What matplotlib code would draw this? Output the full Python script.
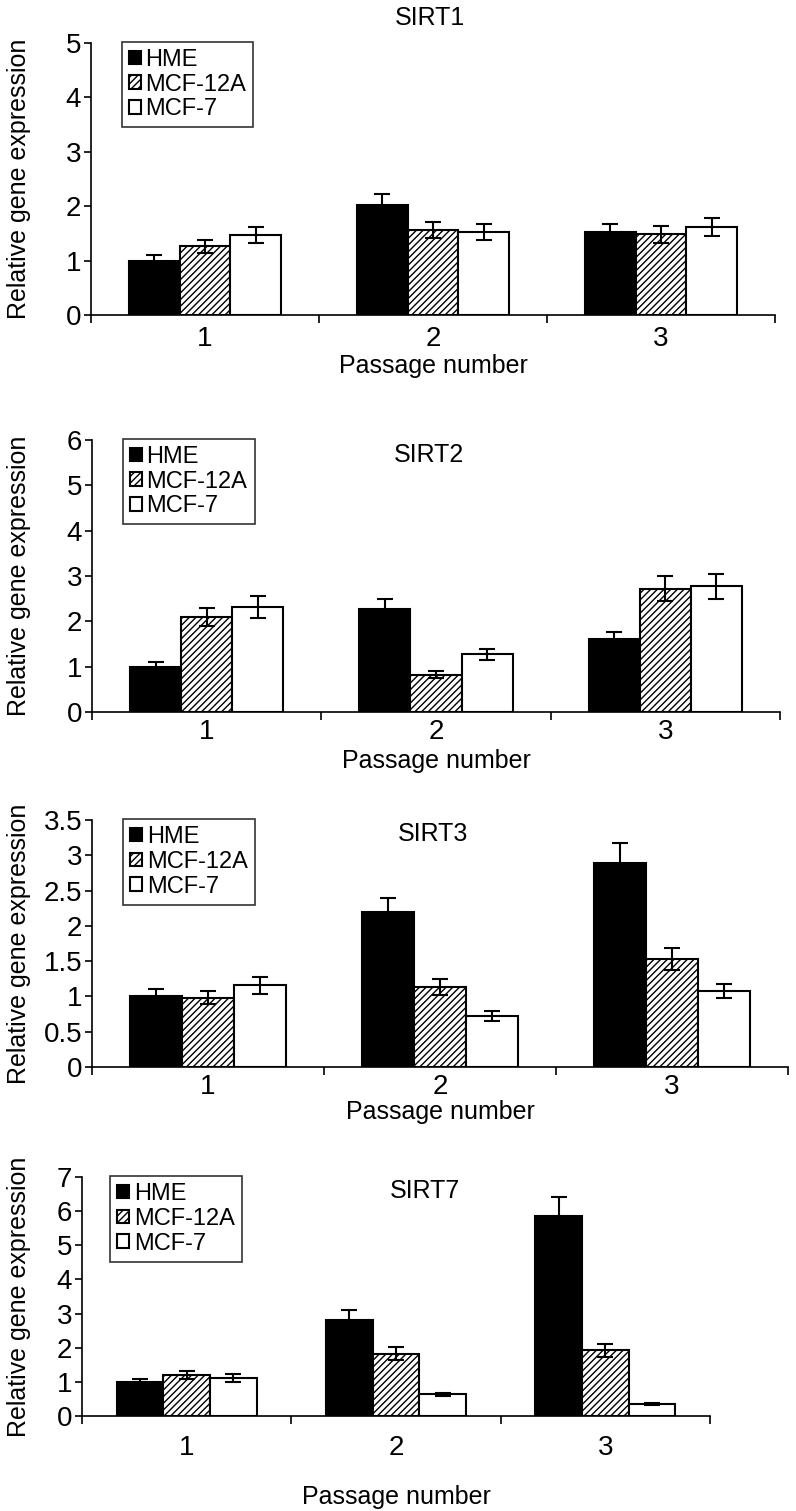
import numpy as np
import matplotlib
matplotlib.use("Agg")
import matplotlib.pyplot as plt
from matplotlib.font_manager import fontManager

names = set(f.name for f in fontManager.ttflist)
narrow = "Liberation Sans Narrow" if "Liberation Sans Narrow" in names else "Liberation Sans"
plt.rcParams['font.family'] = [narrow, 'DejaVu Sans']
plt.rcParams['hatch.linewidth'] = 1.0

passages = ["1", "2", "3"]
series = ["HME", "MCF-12A", "MCF-7"]

genes = ["SIRT1", "SIRT2", "SIRT3", "SIRT7"]

sirt1_vals = [[1.00, 2.02, 1.53], [1.26, 1.56, 1.48], [1.47, 1.53, 1.62]]
sirt1_err = [[0.10, 0.20, 0.15], [0.12, 0.15, 0.15], [0.15, 0.15, 0.16]]
sirt2_vals = [[1.00, 2.27, 1.60], [2.10, 0.82, 2.72], [2.32, 1.27, 2.77]]
sirt2_err = [[0.10, 0.22, 0.16], [0.20, 0.08, 0.28], [0.24, 0.13, 0.28]]
sirt3_vals = [[1.00, 2.19, 2.89], [0.98, 1.13, 1.53], [1.16, 0.72, 1.08]]
sirt3_err = [[0.10, 0.21, 0.28], [0.09, 0.11, 0.15], [0.12, 0.07, 0.10]]
sirt7_vals = [[1.00, 2.82, 5.85], [1.20, 1.83, 1.93], [1.12, 0.63, 0.35]]
sirt7_err = [[0.08, 0.27, 0.57], [0.12, 0.18, 0.19], [0.12, 0.05, 0.03]]

ymaxes = [5, 6, 3.5, 7]
ysteps = [1, 1, 0.5, 1]

W, H = 796, 1511
fig = plt.figure(figsize=(W / 100, H / 100), dpi=100)

# axes boxes in pixels: left, right, top, bottom
boxes = [(91, 775, 43, 315), (92, 780, 440, 712), (92, 788, 820, 1067), (82, 710, 1177, 1416)]
data = [(sirt1_vals, sirt1_err), (sirt2_vals, sirt2_err), (sirt3_vals, sirt3_err), (sirt7_vals, sirt7_err)]
xlabel_y = [366, 761, 1112, 1497]
xpads = [8, 5, 5, 14]
title_x = [None, 0.49, 0.49, 0.546]

faces = ["black", "white", "white"]
hatches = [None, "/////", None]
bw = 0.223
x = np.arange(1, 4)

for i, gene in enumerate(genes):
    l, r, t, b = boxes[i]
    ax = fig.add_axes([l / W, 1 - b / H, (r - l) / W, (b - t) / H])
    vals, errs = data[i]
    for j in range(3):
        pos = x + (j - 1) * bw
        ax.bar(pos, vals[j], bw, color=faces[j], edgecolor="black", linewidth=1.5,
               hatch=hatches[j], label=series[j], zorder=2)
        ax.errorbar(pos, vals[j], yerr=errs[j], fmt="none", ecolor="black",
                    elinewidth=1.5, capsize=5.5, capthick=1.5, zorder=3)
    ax.set_xlim(0.5, 3.5)
    ax.set_ylim(0, ymaxes[i])
    ticks = np.arange(0, ymaxes[i] + 1e-9, ysteps[i])
    ax.set_yticks(ticks)
    ax.set_yticklabels([("%g" % v) for v in ticks])
    ax.set_xticks(x)
    ax.set_xticklabels(passages)
    ax.set_xticks([0.5, 1.5, 2.5, 3.5], minor=True)
    ax.tick_params(axis="x", which="major", length=0, labelsize=20, pad=xpads[i])
    ax.tick_params(axis="x", which="minor", length=6, width=1.2, direction="out")
    ax.tick_params(axis="y", length=5, width=1.2, labelsize=20, pad=2)
    for s in ["top", "right"]:
        ax.spines[s].set_visible(False)
    for s in ["left", "bottom"]:
        ax.spines[s].set_linewidth(1.2)
    ax.set_ylabel("Relative gene expression", family=["Liberation Sans", "DejaVu Sans"],
                  fontsize=18)
    ax.yaxis.set_label_coords((31 - l) / (r - l), 0.5)
    fig.text((l + r) / 2 / W, 1 - xlabel_y[i] / H, "Passage number", ha="center",
             va="center", fontsize=18)
    if i == 0:
        fig.text(430 / W, 1 - 18 / H, gene, ha="center", va="center", fontsize=18)
    else:
        ax.text(title_x[i], 0.99, gene, transform=ax.transAxes,
                ha="center", va="top", fontsize=18)
    leg = ax.legend(loc="upper left", bbox_to_anchor=(0.045, 1.005), frameon=True,
                    fancybox=False, edgecolor="black", fontsize=17, handlelength=0.5,
                    handleheight=0.5, handletextpad=0.2, borderpad=0.3,
                    labelspacing=0.12, borderaxespad=0)
    leg.get_frame().set_linewidth(1.2)

fig.savefig("out.png", dpi=100)
